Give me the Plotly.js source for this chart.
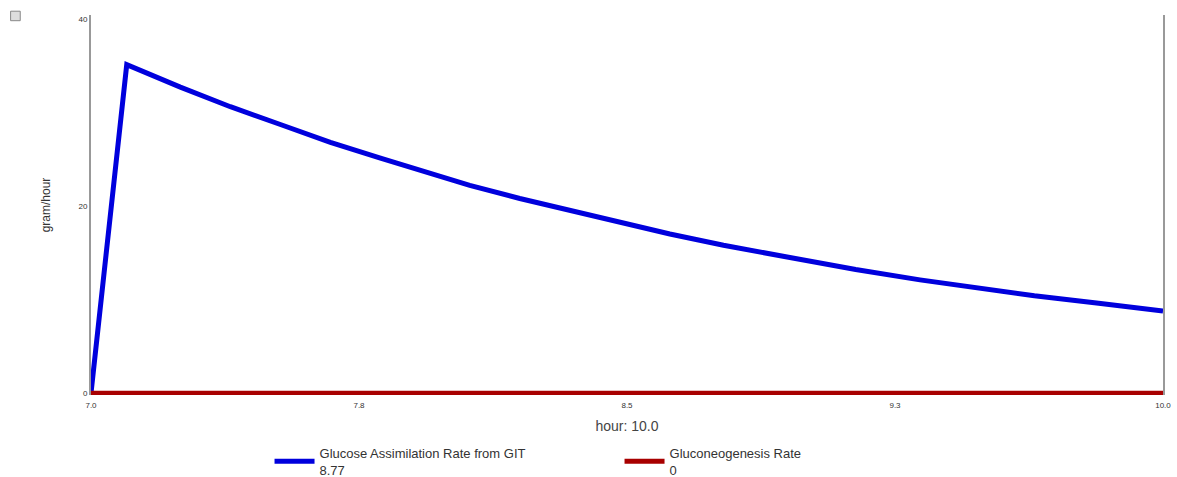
<!DOCTYPE html>
<html>
<head>
<meta charset="utf-8">
<script src="https://cdn.plot.ly/plotly-3.0.1.min.js"></script>
<style>
html,body{margin:0;padding:0;background:#fff;}
#chart{width:1177px;height:477px;}
</style>
</head>
<body>
<div id="chart"></div>
<script>
// Data
const hours = [7.0, 7.10, 7.25, 7.39, 7.53, 7.67, 7.81, 7.92, 8.06, 8.20, 8.34, 8.48, 8.62, 8.77, 8.96, 9.14, 9.32, 9.45, 9.64, 9.82, 10.0];
const glucoseAssimilation = [0, 35.1, 32.7, 30.6, 28.7, 26.8, 25.1, 23.8, 22.2, 20.8, 19.5, 18.2, 17.0, 15.8, 14.4, 13.2, 12.1, 11.4, 10.4, 9.6, 8.77];
const gluconeoHours = [7.0, 10.0];
const gluconeogenesis = [0, 0];
const seriesNames = ["Glucose Assimilation Rate from GIT<br>8.77", "Gluconeogenesis Rate<br>0"];
const xTickVals = [7.0, 7.75, 8.5, 9.25, 10.0];
const xTickText = ["7.0", "7.8", "8.5", "9.3", "10.0"];
const yTickVals = [0, 20, 40];
const yTickText = ["0", "20", "40"];

const traces = [
  {x: hours, y: glucoseAssimilation, name: seriesNames[0], mode: 'lines',
   line: {color: '#0000dd', width: 5}},
  {x: gluconeoHours, y: gluconeogenesis, name: seriesNames[1], mode: 'lines',
   line: {color: '#a80000', width: 5}}
];

const layout = {
  width: 1177, height: 477,
  margin: {l: 91, r: 14, t: 15, b: 82},
  paper_bgcolor: '#fff', plot_bgcolor: '#fff',
  font: {family: 'Liberation Sans, Arial, sans-serif', color: '#333'},
  showlegend: true,
  legend: {orientation: 'h', xref: 'container', yref: 'container',
    x: 0.229, xanchor: 'left', y: 0.082, yanchor: 'top',
    font: {size: 13, color: '#333'}, entrywidth: 295, valign: 'middle', itemwidth: 40},
  xaxis: {range: [7.0, 10.0], tickvals: xTickVals, ticktext: xTickText,
    showgrid: false, zeroline: false, showline: false, ticks: '',
    ticklabelstandoff: 4,
    tickfont: {size: 8, color: '#333'},
    title: {text: 'hour: 10.0', font: {size: 14, color: '#444'}, standoff: 12}},
  yaxis: {range: [-0.2, 40.4], tickvals: yTickVals, ticktext: yTickText,
    showgrid: false, zeroline: false, showline: true, mirror: true,
    linecolor: '#999', linewidth: 2, ticks: '',
    tickfont: {size: 8, color: '#333'},
    title: {text: 'gram/hour', font: {size: 12, color: '#333'}, standoff: 25}},
  shapes: [
    {type: 'rect', xref: 'paper', yref: 'paper', x0: -0.075, x1: -0.066,
     y0: 1.01, y1: 0.985, line: {color: '#888', width: 1}, fillcolor: '#ddd'}
  ]
};

Plotly.newPlot('chart', traces, layout, {displayModeBar: false, responsive: false});
</script>
</body>
</html>
